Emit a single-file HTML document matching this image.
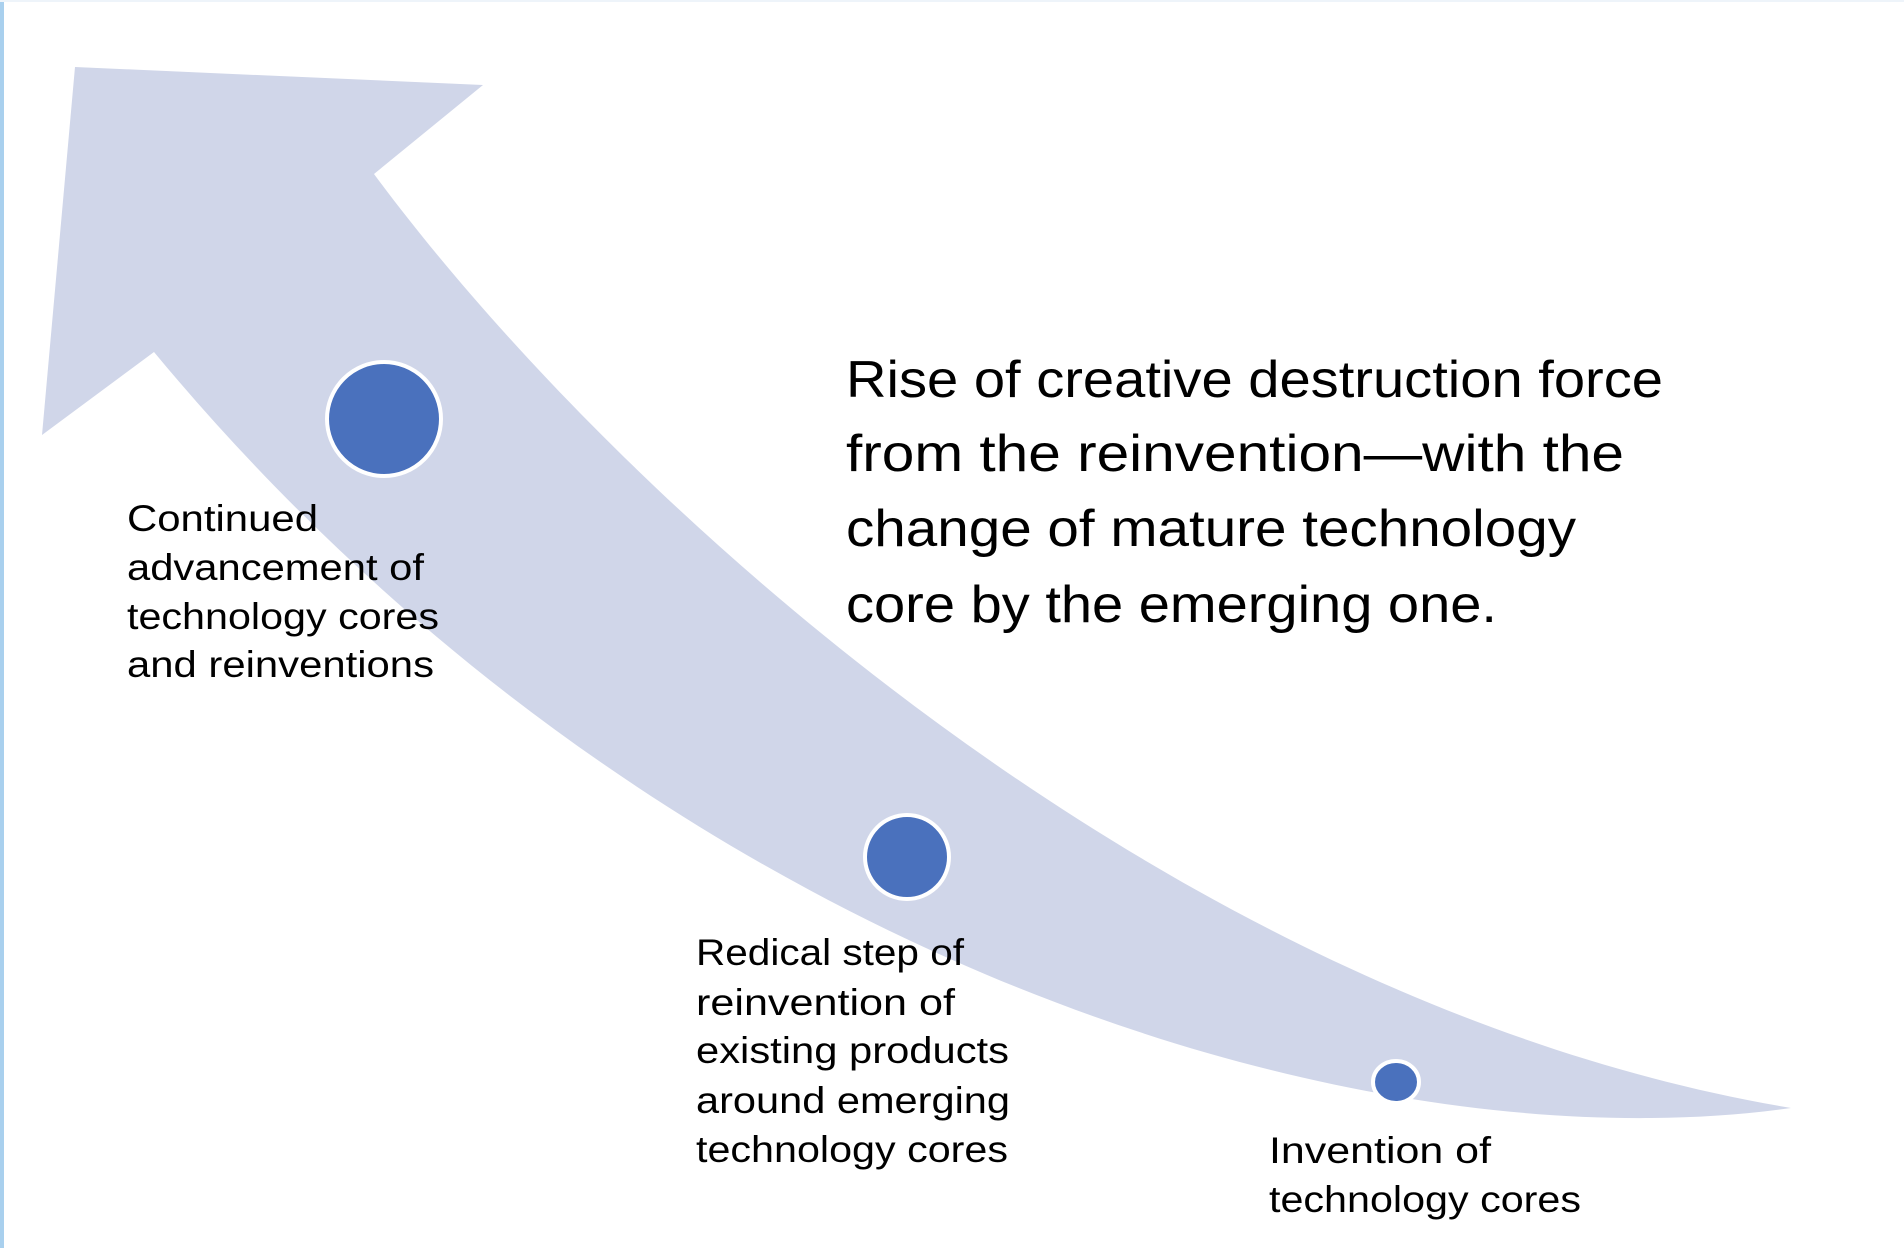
<!DOCTYPE html>
<html><head><meta charset="utf-8"><style>
html,body{margin:0;padding:0;background:#fff;}
svg{display:block;}
text{font-family:"Liberation Sans",sans-serif;fill:#000;}
</style></head><body>
<svg width="1904" height="1248" viewBox="0 0 1904 1248" xmlns="http://www.w3.org/2000/svg">
<rect x="0" y="0" width="1904" height="1248" fill="#fff"/>
<rect x="0" y="0" width="4" height="1248" fill="#a9d0ee"/>
<rect x="0" y="0" width="1904" height="2" fill="#eef4fa"/>
<path d="M75,67 L483,85 L374,174 C600,480 1150,1000 1791,1108 C1350,1170 650,950 154,352 L42,435 Z" fill="#d0d6e9"/>
<circle cx="384" cy="419" r="57" fill="#4a71bd" stroke="#fff" stroke-width="4"/>
<circle cx="907" cy="857" r="42" fill="#4a71bd" stroke="#fff" stroke-width="4"/>
<ellipse cx="1396" cy="1082" rx="23" ry="21" fill="#4a71bd" stroke="#fff" stroke-width="4"/>
<g font-size="52">
<text x="846" y="397" textLength="817" lengthAdjust="spacingAndGlyphs">Rise of creative destruction force</text>
<text x="846" y="471" textLength="778" lengthAdjust="spacingAndGlyphs">from the reinvention—with the</text>
<text x="846" y="546" textLength="730" lengthAdjust="spacingAndGlyphs">change of mature technology</text>
<text x="846" y="622" textLength="651" lengthAdjust="spacingAndGlyphs">core by the emerging one.</text>
</g>
<g font-size="37">
<text x="127" y="531" textLength="191" lengthAdjust="spacingAndGlyphs">Continued</text>
<text x="127" y="580" textLength="297" lengthAdjust="spacingAndGlyphs">advancement of</text>
<text x="127" y="629" textLength="312" lengthAdjust="spacingAndGlyphs">technology cores</text>
<text x="127" y="677" textLength="307" lengthAdjust="spacingAndGlyphs">and reinventions</text>
<text x="696" y="965" textLength="268" lengthAdjust="spacingAndGlyphs">Redical step of</text>
<text x="696" y="1015" textLength="259" lengthAdjust="spacingAndGlyphs">reinvention of</text>
<text x="696" y="1063" textLength="313" lengthAdjust="spacingAndGlyphs">existing products</text>
<text x="696" y="1113" textLength="314" lengthAdjust="spacingAndGlyphs">around emerging</text>
<text x="696" y="1162" textLength="312" lengthAdjust="spacingAndGlyphs">technology cores</text>
<text x="1269" y="1163" textLength="222" lengthAdjust="spacingAndGlyphs">Invention of</text>
<text x="1269" y="1212" textLength="312" lengthAdjust="spacingAndGlyphs">technology cores</text>
</g>
</svg>
</body></html>
